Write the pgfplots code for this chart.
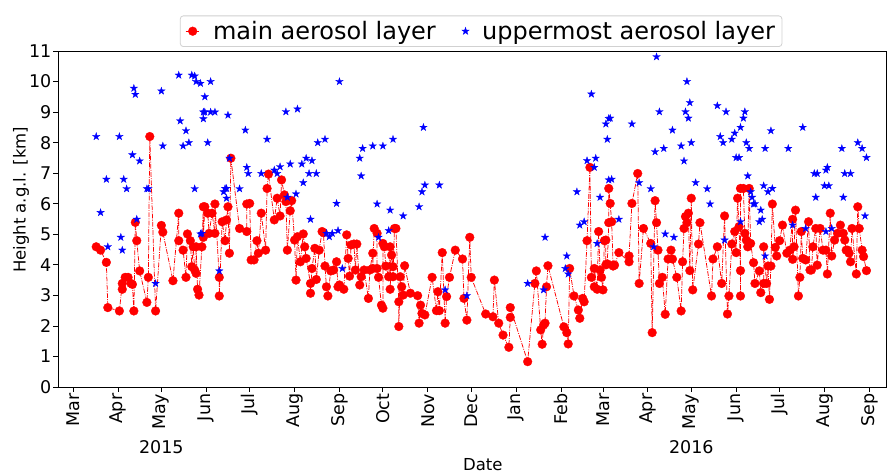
\documentclass[border=0pt]{standalone}
\usepackage{fontspec}
\setmainfont{DejaVu Sans}
\usepackage{pgfplots}
\pgfplotsset{compat=1.18}
\newcommand{\tickfont}{\fontsize{17.5bp}{20bp}\selectfont}
\newcommand{\labfont}{\fontsize{16.5bp}{19bp}\selectfont}
\newcommand{\legfont}{\fontsize{24bp}{28bp}\selectfont}
\pgfdeclareplotmark{fstar}{%
  \pgfpathmoveto{\pgfpointpolar{90}{\pgfplotmarksize}}%
  \pgfpathlineto{\pgfpointpolar{126}{0.382\pgfplotmarksize}}%
  \pgfpathlineto{\pgfpointpolar{162}{\pgfplotmarksize}}%
  \pgfpathlineto{\pgfpointpolar{198}{0.382\pgfplotmarksize}}%
  \pgfpathlineto{\pgfpointpolar{234}{\pgfplotmarksize}}%
  \pgfpathlineto{\pgfpointpolar{270}{0.382\pgfplotmarksize}}%
  \pgfpathlineto{\pgfpointpolar{306}{\pgfplotmarksize}}%
  \pgfpathlineto{\pgfpointpolar{342}{0.382\pgfplotmarksize}}%
  \pgfpathlineto{\pgfpointpolar{18}{\pgfplotmarksize}}%
  \pgfpathlineto{\pgfpointpolar{54}{0.382\pgfplotmarksize}}%
  \pgfpathclose\pgfusepathqfillstroke}
\pgfplotsset{
  redleg/.style={legend image code/.code={\draw[mark repeat=2, mark phase=2, ##1] plot coordinates {(0bp,0bp) (7bp,0bp) (14bp,0bp)};}},
  blueleg/.style={legend image code/.code={\draw[##1] plot coordinates {(7bp,0bp)};}},
}
\pgfplotstableread{
x y
16 4.59
19 4.48
23 4.08
24 2.60
32 2.49
34 3.39
34 3.20
36 3.59
38 3.59
40 3.39
41 3.36
42 2.49
43 5.39
44 4.79
46 3.80
51 2.77
52 3.59
53 8.20
57 2.49
61 5.29
62 5.07
69 3.48
73 5.69
73 4.79
76 4.48
78 3.59
79 5.01
81 4.79
82 3.94
83 4.59
84 3.83
85 3.72
85 4.59
86 3.20
87 3.01
89 4.59
90 5.90
90 4.90
91 5.90
93 5.69
94 5.03
96 5.69
98 5.03
98 5.99
101 3.59
101 2.98
103 5.41
105 4.79
106 5.47
107 5.90
108 4.38
109 7.49
115 5.19
120 5.09
120 5.99
122 6.01
123 4.16
125 4.16
127 4.79
128 4.38
130 5.69
133 4.48
134 6.50
135 6.97
139 5.47
141 6.18
143 5.60
144 6.78
146 6.29
147 6.07
148 4.48
150 5.77
151 6.10
153 4.81
154 3.50
155 4.92
157 4.10
159 5.01
160 4.59
161 4.21
164 3.39
164 3.07
165 3.88
167 4.54
168 3.52
170 4.48
172 5.09
173 5.05
174 3.96
175 3.28
176 2.98
178 3.80
180 3.83
182 4.10
183 3.28
184 3.34
187 3.20
189 4.98
190 4.21
191 3.63
192 4.65
194 4.68
195 3.83
196 4.68
198 3.34
199 3.61
201 3.83
204 2.90
205 3.83
207 4.38
207 3.88
208 5.19
210 5.03
210 3.88
211 3.59
213 2.68
214 2.58
214 4.70
215 4.59
216 3.96
218 3.61
219 4.59
219 3.20
220 4.32
221 3.94
221 3.61
222 5.19
223 5.19
225 2.79
225 1.98
226 3.61
227 3.28
228 3.01
229 3.97
233 3.07
238 2.99
239 2.09
240 2.68
241 2.41
243 2.36
248 3.59
251 2.50
252 3.12
253 2.50
255 4.40
257 2.09
258 2.96
260 3.59
264 4.48
269 4.19
270 2.90
272 2.19
274 4.90
275 3.59
285 2.39
290 2.30
291 3.50
294 2.09
297 1.70
301 1.30
302 2.28
302 2.60
314 0.83
319 3.39
320 3.80
323 1.87
324 1.40
325 2.03
326 2.09
327 3.28
328 3.97
339 1.97
341 1.78
342 1.41
343 3.88
346 2.98
349 2.52
350 2.25
352 2.90
353 2.79
355 4.79
357 7.19
358 3.59
360 3.28
360 3.88
362 3.20
363 5.09
364 3.83
365 3.59
366 3.18
367 4.79
368 4.81
368 4.00
369 4.03
370 5.38
370 6.50
371 6.01
372 5.41
373 3.99
373 3.96
374 3.99
377 4.40
384 4.10
384 4.29
386 6.01
390 6.99
391 3.39
394 5.19
399 4.70
400 1.78
402 6.10
403 5.38
404 4.48
405 3.39
407 3.59
409 2.38
411 4.19
413 4.48
414 4.19
417 3.59
420 2.49
421 4.10
422 5.19
423 5.58
424 5.38
425 5.69
426 3.81
427 6.18
428 3.18
432 4.68
433 5.38
441 2.98
442 4.19
445 4.59
448 3.39
450 5.60
452 2.39
453 2.98
455 4.68
457 5.09
458 4.40
459 6.18
460 5.25
461 3.81
461 2.98
461 6.50
463 6.50
464 5.03
465 4.81
466 4.59
467 6.50
468 4.70
470 4.07
471 3.39
474 3.80
475 3.09
477 3.39
477 4.59
479 3.39
480 3.96
481 2.87
482 3.96
483 5.99
485 4.57
486 4.29
488 4.79
490 5.30
493 4.38
495 4.48
497 5.49
497 4.18
498 4.59
499 5.79
501 2.98
502 3.59
503 5.09
504 4.21
506 4.16
508 5.41
509 3.83
510 3.83
511 4.59
513 5.19
514 3.99
516 5.19
518 4.48
520 4.48
521 3.70
523 5.69
524 4.29
526 4.81
528 5.03
530 5.30
532 5.03
533 4.81
534 4.48
535 4.48
536 4.38
537 4.10
538 5.19
541 3.70
542 5.90
543 5.19
545 4.48
546 4.27
548 3.81
}\mainlayer
\pgfplotstableread{
x y
16 8.20
19 5.71
23 6.80
24 4.59
32 8.20
33 4.90
34 4.48
35 6.80
37 6.49
41 7.60
42 9.78
43 9.58
44 5.49
46 7.40
51 6.49
52 6.49
57 3.39
61 9.69
62 7.89
73 10.21
74 8.71
76 7.89
78 8.39
80 8.00
82 10.21
84 10.18
84 6.49
85 10.00
88 9.94
88 5.01
89 5.03
90 9.00
90 8.78
91 9.50
91 9.00
93 8.00
95 9.00
95 10.00
98 9.00
101 3.80
104 6.39
105 6.50
106 6.18
106 6.50
107 8.90
108 7.49
115 6.49
119 8.41
120 7.19
121 6.99
130 6.99
134 8.11
139 7.10
141 6.99
143 7.21
147 9.01
148 6.21
150 7.30
154 6.32
155 9.10
158 7.30
159 6.69
161 7.49
163 6.99
164 5.49
165 7.41
168 6.99
169 8.00
174 8.11
175 5.03
177 4.92
179 5.03
182 6.01
183 5.12
184 10.00
186 3.88
198 7.49
199 6.91
200 7.81
207 7.89
210 5.99
211 4.90
214 7.89
218 5.12
219 5.79
221 8.11
228 5.60
239 5.90
241 6.39
242 8.50
243 6.61
253 6.61
257 3.18
272 2.99
314 3.39
325 3.18
326 4.90
340 3.88
341 4.29
342 3.70
348 6.39
350 5.30
353 5.41
355 7.41
358 9.59
360 7.19
361 7.49
362 4.70
364 6.21
368 8.61
369 8.11
370 8.79
370 6.78
371 8.80
372 6.80
377 5.49
386 8.61
391 6.69
399 6.49
401 4.59
402 7.70
403 10.81
405 9.01
408 7.81
409 5.01
414 8.41
415 4.90
420 7.89
422 7.40
423 9.01
424 10.00
425 8.80
426 9.31
427 8.00
430 6.69
438 6.49
440 5.99
445 9.21
447 8.20
449 8.00
450 4.81
451 9.01
455 8.11
457 8.31
458 7.51
460 7.51
461 5.41
461 8.50
463 8.80
464 9.01
465 8.00
466 6.91
467 7.81
468 6.39
469 6.21
470 5.99
471 6.00
474 5.41
475 5.79
476 5.49
477 6.59
478 4.29
478 7.81
480 6.39
482 8.39
483 6.50
494 7.81
497 5.30
504 8.50
506 5.19
512 6.99
513 6.21
514 6.99
519 6.59
520 7.10
520 5.09
521 7.19
522 6.59
524 5.19
531 7.81
532 6.21
533 6.99
537 6.99
542 8.00
545 7.81
547 5.60
548 7.51
}\upperlayer
\begin{document}
\begin{tikzpicture}
\begin{axis}[
  name=ax,
  scale only axis,
  width=828bp, height=336bp,
  xmin=-10.4, xmax=561.5,
  ymin=0, ymax=11,
  clip=false,
  ytick={0,1,...,11},
  xtick={0,31,61,92,122,153,184,214,245,275,306,337,366,397,427,458,488,519,550},
  xticklabels={Mar,Apr,May,Jun,Jul,Aug,Sep,Oct,Nov,Dec,Jan,Feb,Mar,Apr,May,Jun,Jul,Aug,Sep},
  tick pos=left,
  tick align=outside,
  major tick length=4.5bp,
  every tick/.style={black, line width=0.8bp},
  axis line style={black, line width=0.8bp},
  /pgf/number format/assume math mode=true,
  xticklabel style={rotate=90, anchor=east, font=\tickfont, inner sep=2bp},
  yticklabel style={font=\tickfont, inner sep=2bp},
  xlabel={Date},
  ylabel={Height a.g.l. [km]},
  label style={font=\labfont},
  xlabel style={at={(axis description cs:0.513,-0.231)}, anchor=center},
  ylabel style={at={(axis description cs:-0.0447,0.557)}, anchor=center},
  legend columns=2,
  legend style={at={(axis description cs:0.511,1.012)}, anchor=south,
    font=\legfont, draw=black!18, rounded corners=3bp, line width=0.8bp,
    inner xsep=5bp, inner ysep=3.5bp,
    /tikz/every odd column/.append style={column sep=11bp},
    /tikz/every even column/.append style={column sep=24bp}},
]
\addplot[color=red, line width=0.75bp, dash pattern=on 4.8bp off 1.3bp on 0.9bp off 1.3bp,
  mark=*, mark size=4.4bp, mark options={solid, fill=red, draw=red, line width=0.3bp}, redleg]
  table[x=x, y=y] {\mainlayer};
\addlegendentry{main aerosol layer}
\addplot[only marks, mark=fstar, mark size=3.9bp, color=blue, mark options={fill=blue, draw=blue, line width=0.3bp}, blueleg]
  table[x=x, y=y] {\upperlayer};
\addlegendentry{uppermost aerosol layer}
\node[font=\tickfont, anchor=center] at ([yshift=-60bp]axis cs:61,0) {2015};
\node[font=\tickfont, anchor=center] at ([yshift=-60bp]axis cs:427,0) {2016};
\end{axis}
\pgfresetboundingbox
\path[use as bounding box] ([shift={(-58bp,-88bp)}]ax.south west) rectangle ([shift={(7bp,51bp)}]ax.north east);
\end{tikzpicture}
\end{document}
